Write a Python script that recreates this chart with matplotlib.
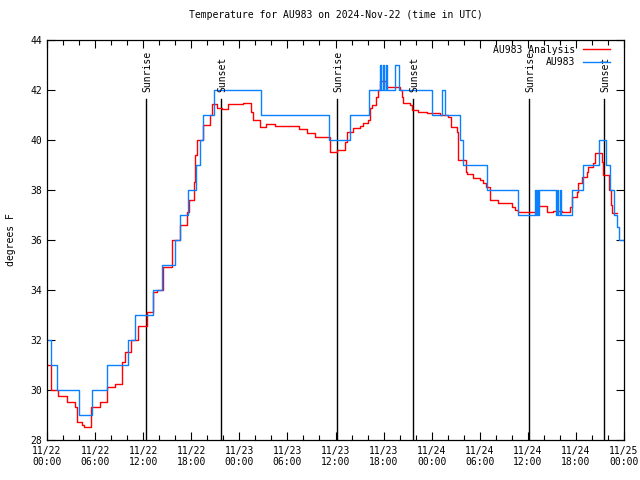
import matplotlib
matplotlib.use("Agg")
import matplotlib.pyplot as plt
from matplotlib.ticker import MultipleLocator

plt.rcParams['font.family'] = ['DejaVu Sans Mono']
FS = 7

# hours since 2024-11-22 00:00 UTC, value in degrees F (steps)
obs_hours = [0.0, 0.5, 1.25, 4.0, 5.6, 7.5, 10.1, 11.0, 13.2, 14.35, 16.0, 16.6,
             17.6, 18.6, 19.1, 19.5, 20.8, 26.7, 35.2, 37.8, 40.2,
             41.55, 41.7, 41.9, 42.05, 42.3, 42.45, 43.4, 43.9, 48.0, 49.3, 49.7,
             51.5, 51.9, 54.9, 58.8, 60.9, 61.0, 61.15, 61.3, 61.4, 63.5,
             63.65, 63.8, 64.0, 64.15, 65.5, 66.9, 68.9, 69.75, 70.25, 70.75,
             71.1, 71.4, 72.0]
obs_temp = [32, 31, 30, 29, 30, 31, 32, 33, 34, 35, 36, 37,
            38, 39, 40, 41, 42, 41, 40, 41, 42,
            43, 42, 43, 42, 43, 42, 43, 42, 41, 42, 41,
            40, 39, 38, 37, 38, 37, 38, 37, 38, 37,
            38, 37, 38, 37, 38, 39, 40, 39, 38, 37,
            36.5, 36, 36]

ana_hours = [0.0, 0.5, 1.37, 2.5, 3.5, 3.75, 4.37, 4.6, 5.5, 6.6, 7.5, 8.5,
             9.35, 9.75, 10.5, 11.35, 12.5, 13.2, 13.7, 14.5, 15.6, 16.6,
             17.47, 17.7, 18.35, 18.5, 18.7, 19.47, 20.3, 20.6, 21.2, 21.85,
             22.6, 24.45, 25.45, 25.7, 26.6, 27.3, 28.45, 31.45, 32.45, 33.45,
             35.3, 36.2, 37.2, 37.45, 38.2, 39.05, 39.45, 40.05, 40.3, 40.55,
             41.05, 41.3, 41.55, 42.3, 44.05, 44.3, 44.4, 45.3, 45.55, 46.3,
             47.4, 49.05, 50.05, 50.4, 51.15, 51.3, 52.3, 52.4, 53.15, 54.0,
             54.4, 54.8, 55.3, 56.3, 58.0, 58.4, 58.8, 61.15, 61.3, 62.4,
             63.15, 64.3, 65.25, 65.5, 66.15, 66.25, 66.75, 67.4, 67.5, 68.15,
             68.4, 69.25, 69.4, 70.1, 70.4, 70.5, 71.1]
ana_temp = [31.0, 30.0, 29.75, 29.5, 29.3, 28.7, 28.6, 28.5, 29.3, 29.5, 30.1, 30.25,
            31.1, 31.5, 32.0, 32.55, 33.1, 33.9, 34.0, 34.9, 36.0, 36.6,
            37.1, 37.6, 38.3, 39.4, 40.0, 40.6, 41.0, 41.44, 41.3, 41.25,
            41.43, 41.49, 41.1, 40.8, 40.5, 40.63, 40.56, 40.43, 40.29, 40.13,
            39.53, 39.6, 39.9, 40.3, 40.47, 40.56, 40.67, 40.8, 41.3, 41.4,
            41.7, 42.0, 42.36, 42.1, 42.0, 41.7, 41.47, 41.4, 41.2, 41.12,
            41.08, 41.0, 40.9, 40.5, 40.3, 39.2, 38.7, 38.63, 38.47, 38.4,
            38.27, 38.13, 37.6, 37.47, 37.33, 37.2, 37.1, 37.3, 37.36, 37.1,
            37.17, 37.1, 37.3, 37.73, 37.93, 38.27, 38.53, 38.73, 38.92, 39.07,
            39.49, 39.13, 38.6, 38.0, 37.4, 37.09, 37.09]

sun_hours = [12.35, 21.7, 36.2, 45.7, 60.15, 69.5]
sun_labels = ["Sunrise", "Sunset", "Sunrise", "Sunset", "Sunrise", "Sunset"]

xtick_hours = list(range(0, 73, 6))
xtick_labels = ["11/22\n00:00", "11/22\n06:00", "11/22\n12:00", "11/22\n18:00",
                "11/23\n00:00", "11/23\n06:00", "11/23\n12:00", "11/23\n18:00",
                "11/24\n00:00", "11/24\n06:00", "11/24\n12:00", "11/24\n18:00",
                "11/25\n00:00"]

fig = plt.figure(figsize=(6.4, 4.8), dpi=100)
ax = fig.add_axes([47/640, 40/480, 577/640, 400/480])

for h, lab in zip(sun_hours, sun_labels):
    ax.plot([h, h], [28, 41.64], color='black', lw=1.0)
    ax.text(h + 0.15, 41.92, lab, rotation=90, ha='center', va='bottom', fontsize=FS)

ax.plot(ana_hours, ana_temp, drawstyle='steps-post', color='#ff0000', lw=1.0,
        label='AU983 Analysis')
ax.plot(obs_hours, obs_temp, drawstyle='steps-post', color='#0a80ff', lw=1.0,
        label='AU983')

ax.set_xlim(0, 72)
ax.set_ylim(28, 44)
ax.set_xticks(xtick_hours)
ax.set_xticklabels(xtick_labels, fontsize=FS)
ax.xaxis.set_minor_locator(MultipleLocator(2))
ax.yaxis.set_major_locator(MultipleLocator(2))
ax.tick_params(axis='both', which='both', direction='in', top=True, right=True,
               labelsize=FS)
ax.tick_params(which='major', length=6, width=0.8)
ax.tick_params(which='minor', length=3.5, width=0.8)
ax.tick_params(axis='x', pad=4)
for s in ax.spines.values():
    s.set_linewidth(0.9)

ax.set_ylabel("degrees F", fontsize=FS, labelpad=10)
ax.set_title("Temperature for AU983 on 2024-Nov-22 (time in UTC)", fontsize=FS, pad=16)

ax.legend(loc='upper right', bbox_to_anchor=(0.985, 1.0), frameon=False,
          markerfirst=False, handlelength=2.8, fontsize=FS, labelspacing=0.25,
          borderaxespad=0.1, handletextpad=0.8)

fig.savefig("out.png", dpi=100)
